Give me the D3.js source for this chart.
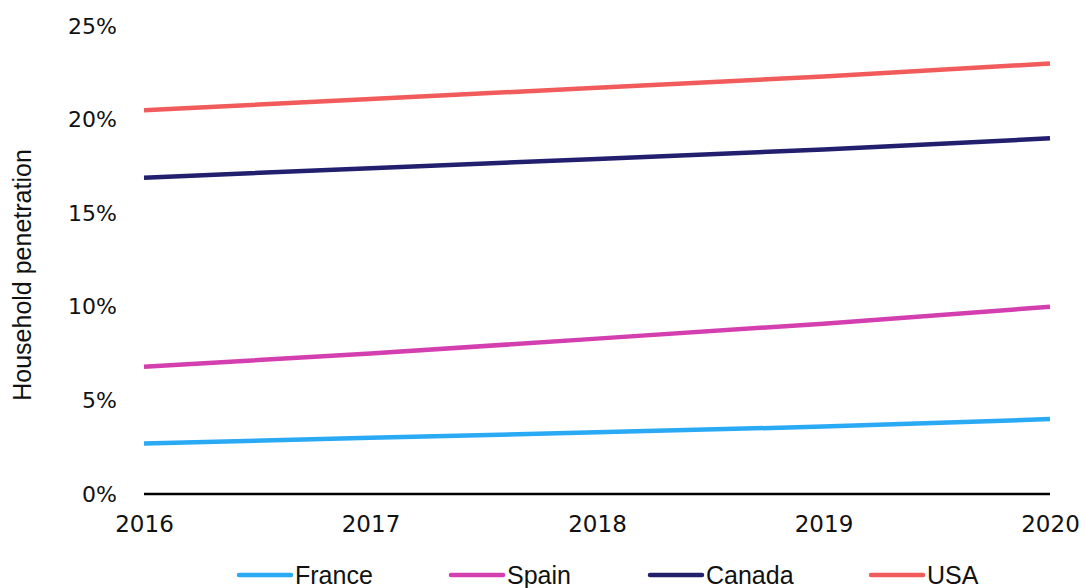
<!DOCTYPE html>
<html><head><meta charset="utf-8">
<script src="https://cdn.jsdelivr.net/npm/d3@7"></script>
<style>body{margin:0;background:#fff}svg{display:block}</style>
</head><body>
<script>
const years = [2016, 2017, 2018, 2019, 2020];
const france = [2.7, 3.0, 3.3, 3.6, 4.0];
const spain = [6.8, 7.5, 8.3, 9.1, 10.0];
const canada = [16.9, 17.4, 17.9, 18.4, 19.0];
const usa = [20.5, 21.1, 21.7, 22.3, 23.0];
const seriesNames = ["France", "Spain", "Canada", "USA"];
const seriesValues = [france, spain, canada, usa];
const colors = ["#2aa9f5", "#d43fb0", "#221f6f", "#f25b5b"];
const yTicks = [0, 5, 10, 15, 20, 25];

const W = 1085, H = 588;
const svg = d3.select("body").append("svg").attr("width", W).attr("height", H);
const x = d3.scaleLinear().domain([2016, 2020]).range([144, 1050]);
const y = d3.scaleLinear().domain([0, 25]).range([494, 26]);
const font = "'Liberation Sans', Arial, sans-serif";
const tickFont = "'DejaVu Sans', sans-serif";

// y axis tick labels
const ya = svg.append("g").attr("transform", "translate(120,0)")
  .call(d3.axisLeft(y).tickValues(yTicks).tickSize(0).tickFormat(d => d + "%"));
ya.select(".domain").remove();
ya.selectAll("text").attr("font-family", tickFont).attr("font-size", 22).attr("fill", "#111").attr("dx", 0);

// x axis tick labels
const xa = svg.append("g").attr("transform", "translate(0,513)")
  .call(d3.axisBottom(x).tickValues(years).tickSize(0).tickFormat(d3.format("d")));
xa.select(".domain").remove();
xa.selectAll("text").attr("font-family", tickFont).attr("font-size", 23).attr("fill", "#111");

// zero line
svg.append("line").attr("x1", x(2016)).attr("x2", x(2020)).attr("y1", y(0)).attr("y2", y(0))
  .attr("stroke", "#000").attr("stroke-width", 2.5);

// lines
const line = d3.line().x((d, i) => x(years[i])).y(d => y(d));
seriesValues.forEach((vals, k) => {
  svg.append("path").datum(vals).attr("d", line).attr("fill", "none")
    .attr("stroke", colors[k]).attr("stroke-width", 4.5);
});

// y axis title
svg.append("text").attr("transform", "translate(31,275) rotate(-90)")
  .attr("text-anchor", "middle").attr("font-family", font).attr("font-size", 25).attr("fill", "#111")
  .text("Household penetration");

// legend
const legX = [237, 449, 648, 869];
seriesNames.forEach((name, k) => {
  const g = svg.append("g").attr("transform", `translate(${legX[k]},575)`);
  g.append("line").attr("x1", 2).attr("x2", 54).attr("y1", 0).attr("y2", 0)
    .attr("stroke", colors[k]).attr("stroke-width", 4.5).attr("stroke-linecap", "round");
  g.append("text").attr("x", 58).attr("y", 9).attr("font-family", font).attr("font-size", 25)
    .attr("fill", "#111").text(name);
});
</script>
</body></html>
